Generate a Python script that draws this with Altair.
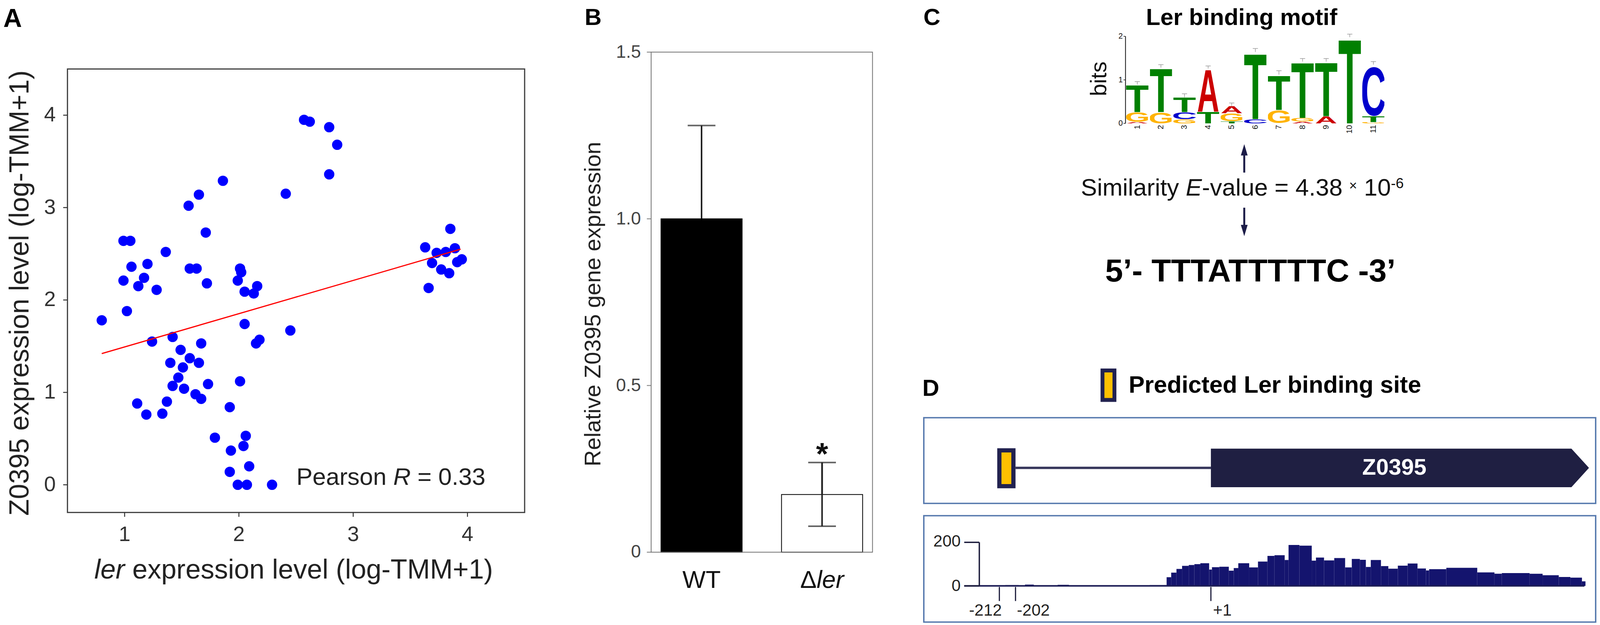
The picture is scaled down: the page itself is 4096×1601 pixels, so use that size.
import base64
import altair as alt
import pandas as pd

FONT = "Liberation Sans"
W, H = 4082, 1590
NAVY = "#1c1c48"

# ---------------- Panel A : ler vs Z0395 expression ----------------
ler_expr = [0.80, 0.99, 1.05, 0.99, 1.06, 1.02, 1.12, 1.17, 1.20, 1.28,
            1.36, 1.24, 1.42, 1.49, 1.40, 1.57, 1.65, 1.67, 1.51, 1.47,
            1.42, 1.52, 1.62, 1.67, 1.73, 1.11, 1.19, 1.33, 1.37, 1.56,
            1.65, 1.57, 1.63, 1.71, 1.72, 1.86, 1.79, 1.92, 1.93, 1.92,
            1.99, 2.07, 2.04, 2.06, 2.09, 2.01, 1.99, 2.01, 2.02, 2.05,
            2.13, 2.16, 2.05, 2.15, 2.18, 2.29, 2.41, 2.45, 2.57, 2.62,
            2.79, 2.86, 2.79, 3.63, 3.85, 3.73, 3.81, 3.89, 3.69, 3.77,
            3.84, 3.91, 3.95, 3.66]
z0395_expr = [1.78, 2.64, 2.64, 2.21, 2.36, 1.88, 2.15, 2.24, 2.39, 2.11,
              2.52, 1.55, 1.60, 1.46, 1.32, 1.37, 1.32, 1.53, 1.27, 1.16,
              1.07, 1.04, 0.98, 0.93, 1.09, 0.88, 0.76, 0.77, 0.90, 3.02,
              3.14, 2.34, 2.34, 2.73, 2.18, 3.29, 0.51, 0.84, 0.37, 0.14,
              0.00, 0.00, 0.42, 0.53, 0.20, 1.12, 2.21, 2.34, 2.30, 2.09,
              2.07, 2.15, 1.74, 1.53, 1.57, 0.00, 3.15, 1.67, 3.95, 3.93,
              3.87, 3.68, 3.36, 2.57, 2.77, 2.51, 2.52, 2.56, 2.40, 2.33,
              2.29, 2.41, 2.44, 2.13]
fit_ler = [0.80, 3.94]
fit_z0395 = [1.42, 2.55]
A_xticks = [1, 2, 3, 4]
A_yticks = [0, 1, 2, 3, 4]

# ---------------- Panel B : qRT-PCR ----------------
strains = ["WT", "Δler"]
rel_expression = [1.0, 0.173]
err_low = [0.72, 0.078]
err_high = [1.28, 0.269]
B_yticks = [0, 0.5, 1.0, 1.5]
B_ylabels = ["0", "0.5", "1.0", "1.5"]

# ---------------- Panel C : motif logo ----------------
motif_pos = [1, 1, 1, 2, 2, 3, 3, 3, 4, 4, 5, 5, 5, 6, 6, 7, 7, 8, 8, 8, 9, 9, 10, 11, 11, 11]
motif_letter = ["A", "G", "T", "G", "T", "G", "C", "T", "T", "A", "T", "G", "A",
                "C", "T", "G", "T", "A", "G", "T", "A", "T", "T", "G", "T", "C"]
motif_lo = [0, 0.03, 0.26, 0, 0.26, 0, 0.10, 0.26, 0, 0.27, 0, 0.05, 0.23,
            0, 0.10, 0, 0.31, 0, 0.04, 0.125, 0, 0.16, 0, 0, 0.03, 0.17]
motif_hi = [0.03, 0.26, 0.89, 0.26, 1.28, 0.10, 0.26, 0.60, 0.27, 1.26, 0.05, 0.23, 0.40,
            0.10, 1.64, 0.31, 1.12, 0.04, 0.125, 1.42, 0.16, 1.42, 1.98, 0.03, 0.17, 1.35]
motif_positions = [1, 2, 3, 4, 5, 6, 7, 8, 9, 10, 11]
motif_total = [0.89, 1.28, 0.60, 1.26, 0.40, 1.64, 1.12, 1.42, 1.42, 1.98, 1.35]
motif_err = [0.96, 1.35, 0.68, 1.32, 0.47, 1.72, 1.21, 1.49, 1.49, 2.05, 1.42]
bits_ticks = [0, 1, 2]

# ---------------- Panel D : gene schematic + coverage (schematic positions) ----------------
cov_start = [234, 290, 383, 452, 645, 693, 706, 721, 737, 756, 772, 789, 814, 822, 843, 870, 884,
             897, 928, 953, 980, 1000, 1029, 1040, 1071, 1106, 1118, 1141, 1170, 1201, 1220, 1243,
             1260, 1274, 1303, 1324, 1351, 1379, 1407, 1431, 1440, 1489, 1577, 1626, 1647, 1726,
             1763, 1809, 1842, 1875]
cov_end = [272, 315, 415, 485, 693, 706, 721, 737, 756, 772, 789, 814, 822, 843, 870, 884, 897,
           928, 953, 980, 1000, 1029, 1040, 1071, 1106, 1118, 1141, 1170, 1201, 1220, 1243, 1260,
           1274, 1303, 1324, 1351, 1379, 1407, 1431, 1440, 1489, 1577, 1626, 1647, 1726, 1763,
           1809, 1842, 1875, 1885]
cov_value = [4, 6, 5, 3, 4, 40, 61, 78, 92, 96, 100, 104, 75, 86, 88, 70, 82,
             104, 85, 112, 138, 141, 119, 188, 185, 116, 130, 117, 128, 85, 124, 120,
             87, 119, 91, 79, 93, 103, 80, 71, 77, 83, 62, 56, 59, 56,
             49, 41, 38, 21]
gene_x = [819, 1845, 1895]
gene_lo = [-55, -55, 0]
gene_hi = [55, 55, 0]
site_x = [217, 257]
site_y = [-52, 50]
link_x = [263, 819]
tick_pos = [217, 263, 819]
tick_labels = ["-212", "-202", "+1"]
cov_axis_values = [0, 200]

one = pd.DataFrame({"k": [0]})


def pix_text(text, x, y, size, **kw):
    return alt.Chart(one).mark_text(text=text, fontSize=size, font=FONT, **kw).encode(
        x=alt.value(x), y=alt.value(y))


# =============== Panel A ===============
A_L, A_R, A_T, A_B = 164.8, 1335.7, 168.4, 1305.1
scA_x = alt.Scale(domain=[0.5, 4.5], range=[A_L, A_R], nice=False, zero=False)
scA_y = alt.Scale(domain=[-0.3, 4.5], range=[A_B, A_T], nice=False, zero=False)


def ax_(f):
    return alt.X(f, scale=scA_x, axis=None)


def ay_(f):
    return alt.Y(f, scale=scA_y, axis=None)


dfA = pd.DataFrame({"ler": ler_expr, "z": z0395_expr})
dfFit = pd.DataFrame({"ler": fit_ler, "z": fit_z0395})
dfFrameA = pd.DataFrame({"x0": [0.5], "x1": [4.5], "y0": [-0.3], "y1": [4.5]})
dfP = pd.DataFrame({"ler": [2.503], "z": [0.0]})
dfAx = pd.DataFrame({"v": A_xticks, "t": [str(v) for v in A_xticks]})
dfAy = pd.DataFrame({"v": A_yticks, "t": [str(v) for v in A_yticks]})

frameA = alt.Chart(dfFrameA).mark_rect(fillOpacity=0, stroke="#3c3c3c", strokeWidth=3).encode(
    x=ax_("x0:Q"), x2="x1:Q", y=ay_("y0:Q"), y2="y1:Q")
pointsA = alt.Chart(dfA).mark_circle(size=700, color="#0000ff", opacity=1).encode(
    x=ax_("ler:Q"), y=ay_("z:Q"))
fitA = alt.Chart(dfFit).mark_line(color="#ff0000", strokeWidth=3).encode(x=ax_("ler:Q"), y=ay_("z:Q"))
xTickA = alt.Chart(dfAx).mark_rule(color="#333", strokeWidth=2.5).encode(
    x=ax_("v:Q"), y=alt.value(A_B), y2=alt.value(A_B + 11))
xLabA = alt.Chart(dfAx).mark_text(fontSize=54, font=FONT, color="#333", baseline="alphabetic").encode(
    x=ax_("v:Q"), y=alt.value(1378), text="t:N")
yTickA = alt.Chart(dfAy).mark_rule(color="#333", strokeWidth=2.5).encode(
    x=alt.value(A_L - 11), x2=alt.value(A_L), y=ay_("v:Q"))
yLabA = alt.Chart(dfAy).mark_text(fontSize=54, font=FONT, color="#333", align="right", baseline="middle").encode(
    x=alt.value(A_L - 30), y=ay_("v:Q"), text="t:N")
yTitleA = pix_text("Z0395 expression level (log-TMM+1)", 65, 742.6, 70, angle=270,
                   align="center", baseline="alphabetic", color="#222")


def a_text(text, dx, **kw):
    return alt.Chart(dfP).mark_text(text=text, fontSize=62, font=FONT, align="left",
                                    baseline="alphabetic", color="#222", dx=dx, **kw).encode(
        x=ax_("ler:Q"), y=ay_("z:Q"))


pearson = [a_text("Pearson", 0), a_text("R", 248.1, fontStyle="italic"), a_text("= 0.33", 310.1)]
xtitleA = [
    pix_text("ler", 311.5, 1474.3, 70, align="right", baseline="alphabetic", fontStyle="italic", color="#222"),
    pix_text("expression level (log-TMM+1)", 331.0, 1474.3, 70, align="left", baseline="alphabetic", color="#222"),
]
labelA = pix_text("A", 0.5, 61, 66, fontWeight="bold", align="left", baseline="alphabetic", color="#000")
panelA = alt.layer(frameA, pointsA, fitA, xTickA, xLabA, yTickA, yLabA, yTitleA,
                   *pearson, *xtitleA, labelA)

# =============== Panel B ===============
B_L, B_R, B_T, B_B = 1659.7, 2226.7, 125.2, 1406.8
dfB = pd.DataFrame({"g": strains, "v": rel_expression, "lo": err_low, "hi": err_high})
dfBy = pd.DataFrame({"v": B_yticks, "t": B_ylabels})
scB_x = alt.Scale(domain=strains, range=[B_L, B_R], paddingInner=0.327, paddingOuter=0.082)
scB_y = alt.Scale(domain=[0, 1.5], range=[B_B, B_T], nice=False)
xB = alt.X("g:N", scale=scB_x, axis=None)


def by_(f):
    return alt.Y(f, scale=scB_y, axis=None)


mut_only = alt.datum.g == "Δler"
frameB = alt.Chart(one).mark_rect(fillOpacity=0, stroke="#707070", strokeWidth=2).encode(
    x=alt.value(B_L), x2=alt.value(B_R), y=alt.value(B_T), y2=alt.value(B_B))
barsB = alt.Chart(dfB).mark_bar(stroke="#000000", strokeWidth=2).encode(
    x=xB, y=by_("v:Q"),
    color=alt.Color("g:N", scale=alt.Scale(domain=strains, range=["#000000", "#ffffff"]), legend=None))
errB = alt.Chart(dfB).mark_rule(color="#222", strokeWidth=4).encode(x=xB, y=by_("lo:Q"), y2="hi:Q")
errB_mut = alt.Chart(dfB).transform_filter(mut_only).mark_rule(color="#222", strokeWidth=4).encode(
    x=xB, y=by_("lo:Q"), y2="hi:Q")
capHiB = alt.Chart(dfB).mark_tick(color="#222", thickness=4, size=71).encode(x=xB, y=by_("hi:Q"))
capLoB = alt.Chart(dfB).transform_filter(mut_only).mark_tick(color="#222", thickness=4, size=71).encode(
    x=xB, y=by_("lo:Q"))
starB = alt.Chart(dfB).transform_filter(mut_only).mark_text(
    text="*", fontSize=80, fontWeight="bold", font=FONT, baseline="alphabetic", dy=5, color="#111").encode(
    x=xB, y=by_("hi:Q"))
labWT = alt.Chart(dfB).transform_filter(alt.datum.g == "WT").mark_text(
    text="WT", fontSize=63, font=FONT, baseline="alphabetic", color="#111").encode(
    x=xB, y=alt.value(B_B + 92))
labDelta = alt.Chart(dfB).transform_filter(mut_only).mark_text(
    text="Δ", fontSize=63, font=FONT, baseline="alphabetic", align="right", dx=-14, color="#111").encode(
    x=xB, y=alt.value(B_B + 92))
labLer = alt.Chart(dfB).transform_filter(mut_only).mark_text(
    text="ler", fontSize=63, font=FONT, baseline="alphabetic", align="left", dx=-14,
    fontStyle="italic", color="#111").encode(x=xB, y=alt.value(B_B + 92))
yTickB = alt.Chart(dfBy).mark_rule(color="#777", strokeWidth=2).encode(
    x=alt.value(B_L - 11), x2=alt.value(B_L), y=by_("v:Q"))
yLabB = alt.Chart(dfBy).mark_text(fontSize=46, font=FONT, color="#444", align="right", baseline="middle").encode(
    x=alt.value(B_L - 26), y=by_("v:Q"), text="t:N")
yTitleB = pix_text("Relative Z0395 gene expression", B_L - 129.7, 771, 58, angle=270,
                   align="center", baseline="alphabetic", color="#222")
labelB = pix_text("B", 1489.6, 56, 60, fontWeight="bold", align="left", baseline="alphabetic", color="#000")
panelB = alt.layer(errB, barsB, errB_mut, capHiB, capLoB, frameB, yTickB, yLabB, yTitleB,
                   starB, labWT, labDelta, labLer, labelB)

# =============== Panel C ===============
LETTER_COLOR = {"A": "#cc0000", "C": "#0000cc", "G": "#ffb300", "T": "#008000"}
GLYPH_BOX = {"T": "2.1 -71.6 56.9 71.6", "A": "0 -71.6 72.2 71.6",
             "C": "4.9 -73.1 62.8 74.6", "G": "4.5 -73.1 68.4 74.6"}


def glyph(letter):
    svg = ("<svg xmlns='http://www.w3.org/2000/svg' width='100' height='100' "
           f"viewBox='{GLYPH_BOX[letter]}' preserveAspectRatio='none'>"
           "<text x='0' y='0' font-family='Liberation Sans, Arial, sans-serif' font-weight='bold' "
           f"font-size='100' fill='{LETTER_COLOR[letter]}'>{letter}</text></svg>")
    return "data:image/svg+xml;base64," + base64.b64encode(svg.encode()).decode()


C_L, C_R, C_T, C_B = 2874.7, 3539.8, 84.7, 307.9
dfL = pd.DataFrame({"pos": motif_pos, "letter": motif_letter, "lo": motif_lo, "hi": motif_hi})
dfL["x0"] = dfL["pos"] - 0.47
dfL["x1"] = dfL["pos"] + 0.47
dfL["uri"] = [glyph(l) for l in dfL["letter"]]
dfE = pd.DataFrame({"pos": motif_positions, "top": motif_total, "err": motif_err})
dfE["cl"] = dfE["pos"] - 0.11
dfE["cr"] = dfE["pos"] + 0.11
dfE["t"] = [str(p) for p in motif_positions]
dfCy = pd.DataFrame({"v": bits_ticks, "t": [str(v) for v in bits_ticks]})

scC_x = alt.Scale(domain=[0.5, 11.5], range=[C_L, C_R], nice=False, zero=False)
scC_y = alt.Scale(domain=[0, 2], range=[C_B, C_T], nice=False, zero=False)


def cx_(f):
    return alt.X(f, scale=scC_x, axis=None)


def cy_(f):
    return alt.Y(f, scale=scC_y, axis=None)


lettersC = alt.Chart(dfL).mark_image(aspect=False).encode(
    x=cx_("x0:Q"), x2="x1:Q", y=cy_("lo:Q"), y2="hi:Q", url=alt.Url("uri:N"))
errC = alt.Chart(dfE).mark_rule(color="#9a9a9a", strokeWidth=1.5).encode(
    x=cx_("pos:Q"), y=cy_("top:Q"), y2="err:Q")
capC = alt.Chart(dfE).mark_rule(color="#9a9a9a", strokeWidth=1.5).encode(
    x=cx_("cl:Q"), x2="cr:Q", y=cy_("err:Q"))
xLabC = alt.Chart(dfE).mark_text(fontSize=20, font=FONT, color="#111", angle=270, align="right",
                                 baseline="middle").encode(x=cx_("pos:Q"), y=alt.value(C_B + 4), text="t:N")
yDomC = alt.Chart(pd.DataFrame({"a": [0], "b": [2]})).mark_rule(color="#111", strokeWidth=2).encode(
    x=alt.value(C_L), y=cy_("a:Q"), y2="b:Q")
yTickC = alt.Chart(dfCy).mark_rule(color="#111", strokeWidth=1.5).encode(
    x=alt.value(C_L - 5), x2=alt.value(C_L), y=cy_("v:Q"))
yLabC = alt.Chart(dfCy).mark_text(fontSize=20, font=FONT, color="#111", align="right", baseline="middle").encode(
    x=alt.value(C_L - 7), y=cy_("v:Q"), text="t:N")
yTitleC = pix_text("bits", C_L - 49.7, 193.6, 57, angle=270, align="center", baseline="alphabetic", color="#111")


def c_text(text, x, y, size, **kw):
    d = pd.DataFrame({"x": [x], "y": [y]})
    return alt.Chart(d).mark_text(text=text, fontSize=size, font=FONT, **kw).encode(
        x=cx_("x:Q"), y=cy_("y:Q"))


titleC = pix_text("Ler binding motif", 3172.2, 56, 60, fontWeight="bold", align="center",
                  baseline="alphabetic", color="#000")
sx, sy = -1.39, -1.661
simC = [
    c_text("Similarity", sx, sy, 62, align="left", baseline="alphabetic", color="#111"),
    c_text("E", sx, sy, 62, align="left", baseline="alphabetic", fontStyle="italic", dx=268.6, color="#111"),
    c_text("-value = 4.38", sx, sy, 62, align="left", baseline="alphabetic", dx=310, color="#111"),
    c_text("×", sx, sy, 35, align="left", baseline="alphabetic", dx=687, dy=-14, color="#111"),
    c_text("10", sx, sy, 62, align="left", baseline="alphabetic", dx=725, color="#111"),
    c_text("-6", sx, sy, 37, align="left", baseline="alphabetic", dx=794, dy=-19, color="#111"),
]
seqC = c_text("5’- TTTATTTTTC -3’", 5.79, -3.629, 82, fontWeight="bold", align="center",
              baseline="alphabetic", color="#000")
dfArrow = pd.DataFrame({"x": [5.53, 5.53], "y0": [-1.129, -1.935], "y1": [-0.66, -2.40]})
shaftC = alt.Chart(dfArrow).mark_rule(color=NAVY, strokeWidth=5).encode(
    x=cx_("x:Q"), y=cy_("y0:Q"), y2="y1:Q")
headUp = alt.Chart(pd.DataFrame({"x": [5.53], "y": [-0.606]})).mark_point(
    shape="M0,-1L0.6,1L-0.6,1Z", size=841, filled=True, color=NAVY, opacity=1, strokeWidth=0).encode(
    x=cx_("x:Q"), y=cy_("y:Q"))
headDown = alt.Chart(pd.DataFrame({"x": [5.53], "y": [-2.46]})).mark_point(
    shape="M0,1L0.6,-1L-0.6,-1Z", size=841, filled=True, color=NAVY, opacity=1, strokeWidth=0).encode(
    x=cx_("x:Q"), y=cy_("y:Q"))
labelC = pix_text("C", 2357.2, 56, 60, fontWeight="bold", align="left", baseline="alphabetic", color="#000")
panelC = alt.layer(lettersC, errC, capC, xLabC, yDomC, yTickC, yLabC, yTitleC, titleC, *simC, seqC,
                   shaftC, headUp, headDown, labelC)

# =============== Panel D (top: gene structure) ===============
scD_x = alt.Scale(domain=[2, 1914], range=[2358.1, 4078.9], nice=False, zero=False)
scDt_y = alt.Scale(domain=[-101, 143], range=[1281.7, 1062.1], nice=False, zero=False)
BOX = "#5578ad"
GOLD = "#ffc000"
SITE_STROKE = "#222250"


def dx_(f):
    return alt.X(f, scale=scD_x, axis=None)


def dty(f):
    return alt.Y(f, scale=scDt_y, axis=None)


frameDt = alt.Chart(pd.DataFrame({"x0": [2], "x1": [1914], "y0": [-101], "y1": [143]})).mark_rect(
    fillOpacity=0, stroke=BOX, strokeWidth=3.6).encode(x=dx_("x0:Q"), x2="x1:Q", y=dty("y0:Q"), y2="y1:Q")
linkD = alt.Chart(pd.DataFrame({"x0": [link_x[0]], "x1": [link_x[1]], "y": [0]})).mark_rule(
    color="#35355a", strokeWidth=6).encode(x=dx_("x0:Q"), x2="x1:Q", y=dty("y:Q"))
geneD = alt.Chart(pd.DataFrame({"x": gene_x, "lo": gene_lo, "hi": gene_hi})).mark_area(
    color="#1f1f42", opacity=1).encode(x=dx_("x:Q"), y=dty("lo:Q"), y2="hi:Q")
siteD = alt.Chart(pd.DataFrame({"x0": [site_x[0]], "x1": [site_x[1]], "y0": [site_y[0]], "y1": [site_y[1]]})).mark_rect(
    fill=GOLD, stroke=SITE_STROKE, strokeWidth=10.8).encode(x=dx_("x0:Q"), x2="x1:Q", y=dty("y0:Q"), y2="y1:Q")
geneName = alt.Chart(pd.DataFrame({"x": [1341], "y": [0]})).mark_text(
    text="Z0395", fontSize=58, font=FONT, fontWeight="bold", color="#ffffff", baseline="middle").encode(
    x=dx_("x:Q"), y=dty("y:Q"))
legRect = alt.Chart(pd.DataFrame({"x0": [510.5], "x1": [544.5], "y0": [193.5], "y1": [277.5]})).mark_rect(
    fill=GOLD, stroke=SITE_STROKE, strokeWidth=9.9).encode(x=dx_("x0:Q"), x2="x1:Q", y=dty("y0:Q"), y2="y1:Q")
legText = alt.Chart(pd.DataFrame({"x": [585], "y": [214]})).mark_text(
    text="Predicted Ler binding site", fontSize=61, font=FONT, fontWeight="bold", color="#000",
    align="left", baseline="alphabetic").encode(x=dx_("x:Q"), y=dty("y:Q"))
labelD = pix_text("D", 2354.5, 1006.1, 60, fontWeight="bold", align="left", baseline="alphabetic", color="#000")
panelDt = alt.layer(frameDt, linkD, geneD, siteD, geneName, legRect, legText, labelD)

# =============== Panel D (bottom: coverage) ===============
scDb_y = alt.Scale(domain=[-166.1, 322.6], range=[1585.9, 1313.2], nice=False, zero=False)


def dby(f):
    return alt.Y(f, scale=scDb_y, axis=None)


dfCov = pd.DataFrame({"s": cov_start, "e": cov_end, "v": cov_value})
dfCov["z"] = 0
frameDb = alt.Chart(pd.DataFrame({"x0": [2], "x1": [1914], "y0": [-166.1], "y1": [322.6]})).mark_rect(
    fillOpacity=0, stroke=BOX, strokeWidth=3.6).encode(x=dx_("x0:Q"), x2="x1:Q", y=dby("y0:Q"), y2="y1:Q")
covD = alt.Chart(dfCov).mark_rect(color="#14146e", opacity=1).encode(
    x=dx_("s:Q"), x2="e:Q", y=dby("z:Q"), y2="v:Q")
baseD = alt.Chart(pd.DataFrame({"x0": [117], "x1": [1882], "y": [0]})).mark_rule(
    color="#1c1c55", strokeWidth=4).encode(x=dx_("x0:Q"), x2="x1:Q", y=dby("y:Q"))
yAxD = alt.Chart(pd.DataFrame({"x": [160], "y0": [0], "y1": [200]})).mark_rule(
    color="#1c1c3c", strokeWidth=3.5).encode(x=dx_("x:Q"), y=dby("y0:Q"), y2="y1:Q")
yTickD = alt.Chart(pd.DataFrame({"x0": [117, 117], "x1": [160, 160], "y": cov_axis_values})).mark_rule(
    color="#1c1c3c", strokeWidth=3.5).encode(x=dx_("x0:Q"), x2="x1:Q", y=dby("y:Q"))
yLabD = alt.Chart(pd.DataFrame({"x": [107, 107], "y": [180.6, -24], "t": ["200", "0"]})).mark_text(
    fontSize=42, font=FONT, color="#222", align="right", baseline="alphabetic").encode(
    x=dx_("x:Q"), y=dby("y:Q"), text="t:N")
xTickD = alt.Chart(pd.DataFrame({"x": tick_pos, "y0": [-4.8] * 3, "y1": [-69.4] * 3})).mark_rule(
    color="#1c1c3c", strokeWidth=3).encode(x=dx_("x:Q"), y=dby("y0:Q"), y2="y1:Q")
xLabR = alt.Chart(pd.DataFrame({"x": [tick_pos[0] + 7], "y": [-137], "t": [tick_labels[0]]})).mark_text(
    fontSize=42, font=FONT, color="#222", align="right", baseline="alphabetic").encode(
    x=dx_("x:Q"), y=dby("y:Q"), text="t:N")
xLabL = alt.Chart(pd.DataFrame({"x": [tick_pos[1] + 4, tick_pos[2] + 6], "y": [-137, -137],
                                "t": tick_labels[1:]})).mark_text(
    fontSize=42, font=FONT, color="#222", align="left", baseline="alphabetic").encode(
    x=dx_("x:Q"), y=dby("y:Q"), text="t:N")
panelDb = alt.layer(frameDb, covD, baseD, yAxD, yTickD, yLabD, xTickD, xLabR, xLabL)

chart = alt.layer(panelA, panelB, panelC, panelDt, panelDb).resolve_scale(
    x="independent", y="independent", color="independent").properties(
    width=W, height=H, autosize=alt.AutoSizeParams(type="none"), padding=0).configure(
    font=FONT).configure_view(stroke=None)

chart.save("out.html", embed_options={"renderer": "svg", "actions": False})
